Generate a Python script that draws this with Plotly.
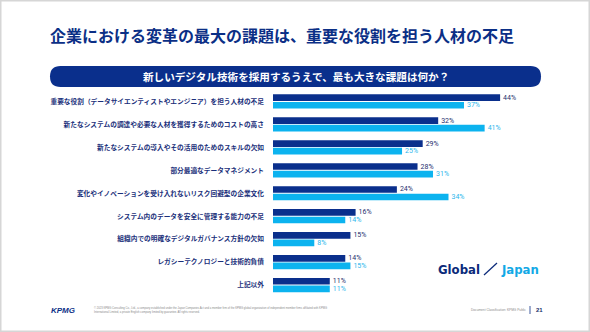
import plotly.graph_objects as go

# Survey: biggest challenge when adopting new digital technology (%)
categories = [
    "重要な役割（データサイエンティストやエンジニア）を担う人材の不足",
    "新たなシステムの調達や必要な人材を獲得するためのコストの高さ",
    "新たなシステムの導入やその活用のためのスキルの欠如",
    "部分最適なデータマネジメント",
    "変化やイノベーションを受け入れないリスク回避型の企業文化",
    "システム内のデータを安全に管理する能力の不足",
    "組織内での明確なデジタルガバナンス方針の欠如",
    "レガシーテクノロジーと技術的負債",
    "上記以外",
]
global_values = [44, 32, 29, 28, 24, 16, 15, 14, 11]
japan_values = [37, 41, 25, 31, 34, 14, 8, 15, 11]

NAVY = "#0a2f8c"
LIGHT = "#0cb3ef"
JP_FONT = "Noto Sans CJK JP"
NARROW = "DejaVu Sans Condensed, Liberation Sans Narrow, Roboto"

W, H = 590, 332


def px(x):
    return x / W


def py(y):
    return 1 - y / H


fig = go.Figure()
fig.add_trace(go.Bar(
    y=categories, x=global_values, orientation="h", name="Global",
    marker=dict(color=NAVY, line_width=0),
    texttemplate="%{x}%", textposition="outside", cliponaxis=False,
    constraintext="none",
    textfont=dict(family="Roboto", size=7, color="#1e2f6e"),
))
fig.add_trace(go.Bar(
    y=categories, x=japan_values, orientation="h", name="Japan",
    marker=dict(color=LIGHT, line_width=0),
    texttemplate="%{x}%", textposition="outside", cliponaxis=False,
    constraintext="none",
    textfont=dict(family="Roboto", size=7, color="#2bb6ec"),
))

fig.update_layout(
    width=W, height=H,
    margin=dict(l=0, r=0, t=0, b=0),
    paper_bgcolor="white", plot_bgcolor="white",
    showlegend=False,
    barmode="group", bargap=0.34, bargroupgap=0.12,
    xaxis=dict(domain=[273 / W, 560 / W], range=[0, 55.6], visible=False),
    yaxis=dict(
        domain=[1 - 296.5 / H, 1 - 90 / H],
        range=[8.5, -0.5], type="category",
        showgrid=False, zeroline=False, showline=False, ticks="",
        ticklabelstandoff=8,
        tickfont=dict(family=JP_FONT, size=6.7, color="#1a2f7a", weight="bold"),
    ),
    hovermode=False,
)

# Slide frame
fig.add_shape(type="rect", xref="paper", yref="paper", x0=0, x1=1, y0=0, y1=1,
              line=dict(color="#d6d6d6", width=3), fillcolor="rgba(0,0,0,0)", layer="below")

# Headline
fig.add_annotation(
    xref="paper", yref="paper", x=px(48), y=py(35), xanchor="left", yanchor="middle",
    text="<b>企業における変革の最大の課題は、重要な役割を担う人材の不足</b>",
    showarrow=False, font=dict(family=JP_FONT, size=16, color="#0b2f86"),
)

# Question banner (rounded pill)
x0, x1, y0, y1 = 50, 541, 66, 87
r = (y1 - y0) / 2
ym = (y0 + y1) / 2
pill = (f"M {px(x0 + r)},{py(y0)} L {px(x1 - r)},{py(y0)} "
        f"Q {px(x1)},{py(y0)} {px(x1)},{py(ym)} "
        f"Q {px(x1)},{py(y1)} {px(x1 - r)},{py(y1)} "
        f"L {px(x0 + r)},{py(y1)} "
        f"Q {px(x0)},{py(y1)} {px(x0)},{py(ym)} "
        f"Q {px(x0)},{py(y0)} {px(x0 + r)},{py(y0)} Z")
fig.add_shape(type="path", xref="paper", yref="paper", path=pill,
              fillcolor=NAVY, line=dict(width=0))
fig.add_annotation(
    xref="paper", yref="paper", x=px((x0 + x1) / 2), y=py(ym),
    xanchor="center", yanchor="middle",
    text="<b>新しいデジタル技術を採用するうえで、最も大きな課題は何か？</b>",
    showarrow=False, font=dict(family=JP_FONT, size=10.6, color="white"),
)

# Global / Japan mark
fig.add_annotation(
    xref="paper", yref="paper", x=px(482), y=py(269), xanchor="right", yanchor="middle",
    text="<b>Global</b>", showarrow=False,
    font=dict(family=NARROW, size=13, color="#0b2a7a"),
)
fig.add_shape(type="line", xref="paper", yref="paper",
              x0=px(484), y0=py(275), x1=px(497), y1=py(263),
              line=dict(color="#0b2a7a", width=1.2))
fig.add_annotation(
    xref="paper", yref="paper", x=px(499), y=py(269), xanchor="left", yanchor="middle",
    text="<b>Japan</b>", showarrow=False,
    font=dict(family=NARROW, size=13, color="#12a9e6"),
)

# Footer
fig.add_annotation(
    xref="paper", yref="paper", x=px(49), y=py(310), xanchor="left", yanchor="middle",
    text="<b><i>KPMG</i></b>", showarrow=False,
    font=dict(family="Liberation Sans", size=8, color="#0b2f86"),
)
fig.add_annotation(
    xref="paper", yref="paper", x=px(92), y=py(310), xanchor="left", yanchor="middle",
    align="left",
    text=("© 2023 KPMG Consulting Co., Ltd., a company established under the Japan Companies Act and a member firm of the KPMG global organization of independent member firms affiliated with KPMG<br>"
          "International Limited, a private English company limited by guarantee. All rights reserved."),
    showarrow=False, font=dict(family="Liberation Sans", size=2.7, color="#8a8a8a"),
)
fig.add_annotation(
    xref="paper", yref="paper", x=px(528), y=py(310), xanchor="right", yanchor="middle",
    text="Document Classification: KPMG Public", showarrow=False,
    font=dict(family="Liberation Sans", size=3.2, color="#8a8a8a"),
)
fig.add_shape(type="line", xref="paper", yref="paper",
              x0=px(530), y0=py(306), x1=px(530), y1=py(314),
              line=dict(color="#0b2f86", width=0.8))
fig.add_annotation(
    xref="paper", yref="paper", x=px(534), y=py(310), xanchor="left", yanchor="middle",
    text="<b>21</b>", showarrow=False,
    font=dict(family="Liberation Sans", size=6, color="#1a2f6a"),
)

fig.write_html("out.html")
